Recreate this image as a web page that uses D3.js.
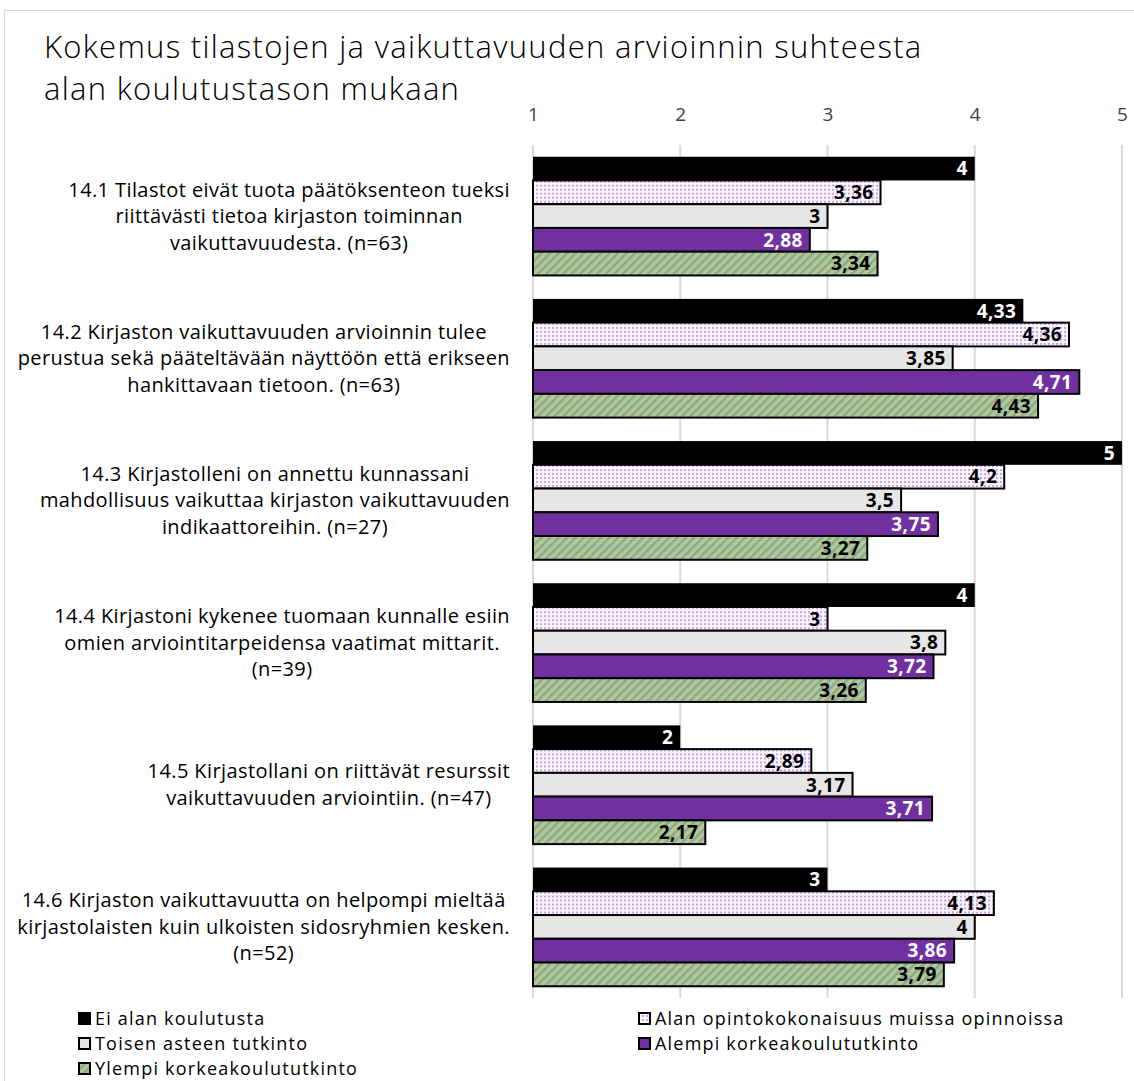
<!DOCTYPE html>
<html lang="fi">
<head>
  <meta charset="UTF-8">
  <title>Kokemus tilastojen ja vaikuttavuuden arvioinnin suhteesta</title>
  <script src="https://d3js.org/d3.v7.min.js"></script>
  <style>
    body { margin: 0; background: #fff; }
    svg { display: block; font-family: "Open Sans", Lato, sans-serif; }
  </style>
</head>
<body>
  <svg width="1134" height="1081"></svg>

  <script>
  // questions (one line per array item)
  const questions = [
    ["14.1 Tilastot eivät tuota päätöksenteon tueksi", "riittävästi tietoa kirjaston toiminnan", "vaikuttavuudesta. (n=63)"],
    ["14.2 Kirjaston vaikuttavuuden arvioinnin tulee", "perustua sekä pääteltävään näyttöön että erikseen", "hankittavaan tietoon. (n=63)"],
    ["14.3 Kirjastolleni on annettu kunnassani", "mahdollisuus vaikuttaa kirjaston vaikuttavuuden", "indikaattoreihin. (n=27)"],
    ["14.4 Kirjastoni kykenee tuomaan kunnalle esiin", "omien arviointitarpeidensa vaatimat mittarit.", "(n=39)"],
    ["14.5 Kirjastollani on riittävät resurssit", "vaikuttavuuden arviointiin. (n=47)"],
    ["14.6 Kirjaston vaikuttavuutta on helpompi mieltää", "kirjastolaisten kuin ulkoisten sidosryhmien kesken.", "(n=52)"]
  ];

  const seriesNames = [
    "Ei alan koulutusta",
    "Alan opintokokonaisuus muissa opinnoissa",
    "Toisen asteen tutkinto",
    "Alempi korkeakoulututkinto",
    "Ylempi korkeakoulututkinto"
  ];

  const eiAlan   = [4, 4.33, 5, 4, 2, 3];
  const alanOpin = [3.36, 4.64, 4.2, 3, 2.89, 4.13];   // 14.2 bar is drawn longer than its label in the original
  const toinen   = [3, 3.85, 3.5, 3.8, 3.17, 4];
  const alempi   = [2.88, 4.71, 3.75, 3.72, 3.71, 3.86];
  const ylempi   = [3.34, 4.43, 3.27, 3.26, 2.17, 3.79];

  // the original shows "4,36" on the 14.2 bar
  const labelFix = { "1-1": "4,36" };

  const ticks = [1, 2, 3, 4, 5];

  const series = [eiAlan, alanOpin, toinen, alempi, ylempi];

  const svg = d3.select("svg");

  // patterns
  const defs = svg.append("defs");
  const dots = defs.append("pattern")
    .attr("id", "dots").attr("patternUnits", "userSpaceOnUse")
    .attr("width", 4).attr("height", 4);
  dots.append("rect").attr("width", 4).attr("height", 4).attr("fill", "#fbf7fe");
  dots.append("rect").attr("x", 0).attr("y", 0).attr("width", 2).attr("height", 2).attr("fill", "#c7a3e6");

  const stripes = defs.append("pattern")
    .attr("id", "stripes").attr("patternUnits", "userSpaceOnUse")
    .attr("width", 6).attr("height", 6)
    .attr("patternTransform", "rotate(45)");
  stripes.append("rect").attr("width", 6).attr("height", 6).attr("fill", "#a9d18e");
  stripes.append("rect").attr("width", 2.4).attr("height", 6).attr("fill", "#9c9c9c");

  const fills = ["#000000", "url(#dots)", "#e7e6e6", "#7030a0", "url(#stripes)"];
  const labelColors = ["#fff", "#000", "#000", "#fff", "#000"];
  const strokes = ["none", "#000", "#000", "#000", "#000"];

  // frame
  svg.append("rect")
    .attr("x", 4.5).attr("y", 10.5)
    .attr("width", 1200).attr("height", 1200)
    .attr("fill", "none").attr("stroke", "#d9d9d9");

  // title
  const title = svg.append("text")
    .attr("x", 44)
    .attr("font-size", "31px")
    .attr("font-weight", 300)
    .attr("letter-spacing", "1.3px")
    .attr("fill", "#000");
  title.append("tspan").attr("x", 44).attr("y", 58).text("Kokemus tilastojen ja vaikuttavuuden arvioinnin suhteesta");
  title.append("tspan").attr("x", 44).attr("y", 100).text("alan koulutustason mukaan");

  const plotTop = 145, plotBottom = 998;

  const x = d3.scaleLinear().domain([1, 5]).range([533, 1122]);

  const y0 = d3.scaleBand()
    .domain(questions.map((q, i) => i))
    .range([plotTop, plotBottom])
    .paddingInner(0.165)
    .paddingOuter(0.0825);

  const y1 = d3.scaleBand()
    .domain(seriesNames.map((s, i) => i))
    .range([0, y0.bandwidth()]);

  // gridlines
  svg.append("g")
    .selectAll("line")
    .data(ticks)
    .join("line")
    .attr("x1", d => x(d)).attr("x2", d => x(d))
    .attr("y1", plotTop).attr("y2", plotBottom)
    .attr("stroke", "#d9d9d9")
    .attr("stroke-width", 2);

  // axis at top
  const axis = svg.append("g")
    .attr("transform", `translate(0,${plotTop})`)
    .call(d3.axisTop(x).tickValues(ticks).tickFormat(d3.format("d")).tickSize(0).tickPadding(24));
  axis.select(".domain").remove();
  axis.selectAll("text")
    .attr("font-size", "19px")
    .attr("font-family", "'Open Sans', sans-serif")
    .attr("fill", "#404040");

  // bars
  const groups = svg.append("g")
    .selectAll("g")
    .data(questions)
    .join("g")
    .attr("transform", (d, i) => `translate(0,${y0(i)})`);

  groups.each(function(q, qi) {
    const g = d3.select(this);
    const rows = series.map((s, si) => ({ si, v: s[qi] }));
    g.selectAll("rect")
      .data(rows)
      .join("rect")
      .attr("x", x(1))
      .attr("y", d => y1(d.si))
      .attr("width", d => x(d.v) - x(1))
      .attr("height", y1.bandwidth())
      .attr("fill", d => fills[d.si])
      .attr("stroke", d => strokes[d.si])
      .attr("stroke-width", 2);

    g.selectAll("text.val")
      .data(rows)
      .join("text")
      .attr("class", "val")
      .attr("x", d => x(d.v) - 7)
      .attr("y", d => y1(d.si) + y1.bandwidth() / 2)
      .attr("dy", "0.36em")
      .attr("text-anchor", "end")
      .attr("font-size", "19px")
      .attr("font-weight", 700)
      .attr("letter-spacing", "0.4px")
      .attr("fill", d => labelColors[d.si])
      .text(d => labelFix[qi + "-" + d.si] || String(d.v).replace(".", ","));

    // category label: lines centred inside a box whose right edge sits left of the axis
    const lab = g.append("text")
      .attr("font-size", "20px")
      .attr("letter-spacing", "0.4px")
      .attr("fill", "#000")
      .attr("text-anchor", "middle");
    const lineH = 26.5;
    const mid = y0.bandwidth() / 2;
    q.forEach((line, li) => {
      lab.append("tspan")
        .attr("y", mid + (li - (q.length - 1) / 2) * lineH)
        .attr("dy", "0.35em")
        .text(line);
    });
    let maxW = 0;
    lab.selectAll("tspan").each(function() {
      maxW = Math.max(maxW, this.getComputedTextLength());
    });
    lab.selectAll("tspan").attr("x", 510 - maxW / 2);
  });

  // legend
  const legendPos = [[78, 1019], [638, 1019], [78, 1044], [638, 1044], [78, 1069]];
  const legend = svg.append("g")
    .selectAll("g")
    .data(seriesNames)
    .join("g")
    .attr("transform", (d, i) => `translate(${legendPos[i][0]},${legendPos[i][1]})`);
  legend.append("rect")
    .attr("x", 1).attr("y", -6)
    .attr("width", 11).attr("height", 11)
    .attr("fill", (d, i) => fills[i])
    .attr("stroke", "#000")
    .attr("stroke-width", 2);
  legend.append("text")
    .attr("x", 17)
    .attr("dy", "0.33em")
    .attr("font-size", "18px")
    .attr("letter-spacing", "1.2px")
    .attr("fill", "#000")
    .text(d => d);
  </script>
</body>
</html>
